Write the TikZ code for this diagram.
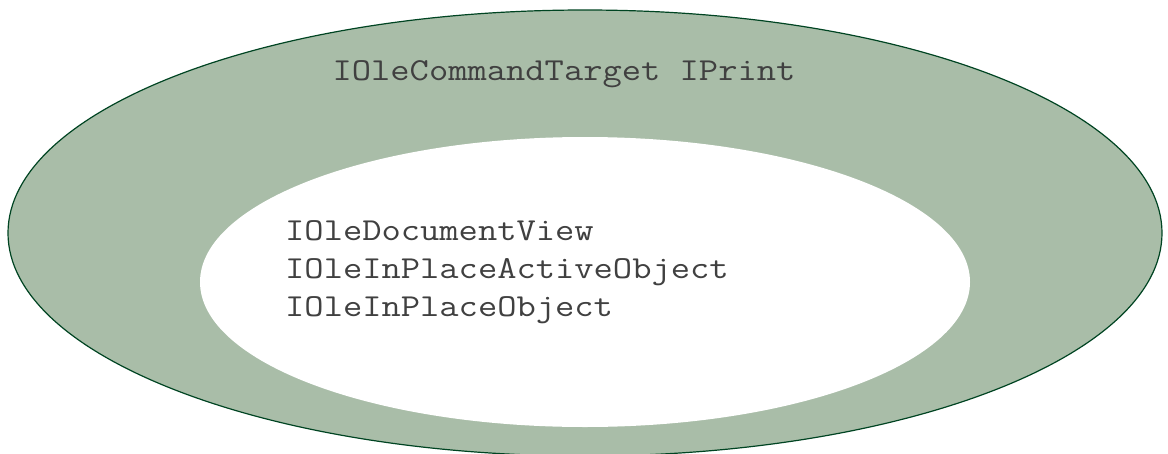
\documentclass[tikz,border=0pt]{standalone}
\usepackage{fontspec}
\newfontfamily\ifacefont{Latin Modern Mono}[FakeStretch=1.17]
\definecolor{ringfill}{HTML}{A9BDA8}
\definecolor{ringline}{HTML}{004422}
\definecolor{ifacetext}{HTML}{404040}
\begin{document}
\begin{tikzpicture}[x=1pt, y=-1pt,
  iface/.style={text=ifacetext, font=\ifacefont\fontsize{32}{38}\selectfont, inner sep=0pt, anchor=base west}]
  \useasboundingbox (0,0) rectangle (1168,453);
  % outer ring and inner area
  \draw[ringline, fill=ringfill, line width=1.2pt] (585,233) ellipse [x radius=577, y radius=223];
  \fill[white] (585,282) ellipse [x radius=385, y radius=145];
  % interfaces
  \node[iface, anchor=base] (outer) at (564,80) {IOleCommandTarget IPrint};
  \foreach \name [count=\i] in {IOleDocumentView, IOleInPlaceActiveObject, IOleInPlaceObject}
    \node[iface] (inner\i) at (285,202+38*\i) {\name};
\end{tikzpicture}
\end{document}
